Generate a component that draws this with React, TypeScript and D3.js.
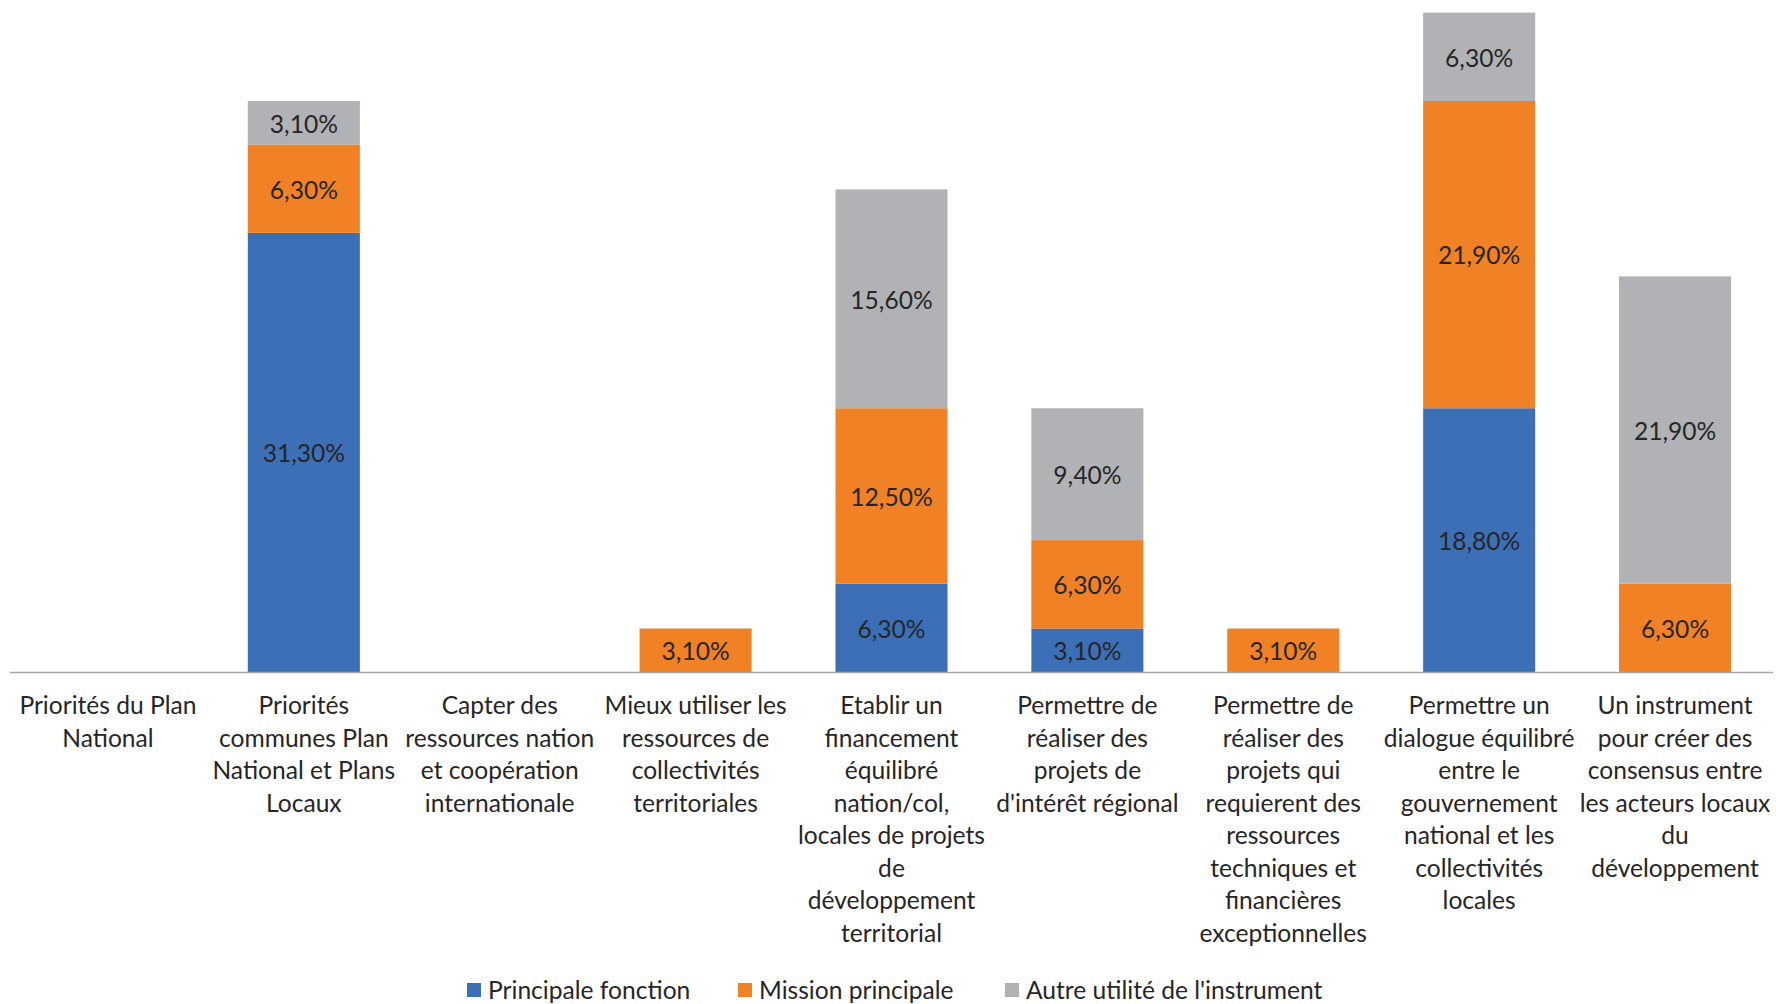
import React from "react";
import * as d3 from "d3";

const categories: string[][] = [
  ["Priorités du Plan", "National"],
  ["Priorités", "communes Plan", "National et Plans", "Locaux"],
  ["Capter des", "ressources nation", "et coopération", "internationale"],
  ["Mieux utiliser les", "ressources de", "collectivités", "territoriales"],
  ["Etablir un", "financement", "équilibré", "nation/col,", "locales de projets", "de", "développement", "territorial"],
  ["Permettre de", "réaliser des", "projets de", "d'intérêt régional"],
  ["Permettre de", "réaliser des", "projets qui", "requierent des", "ressources", "techniques et", "financières", "exceptionnelles"],
  ["Permettre un", "dialogue équilibré", "entre le", "gouvernement", "national et les", "collectivités", "locales"],
  ["Un instrument", "pour créer des", "consensus entre", "les acteurs locaux", "du", "développement"],
];

const seriesNames = ["Principale fonction", "Mission principale", "Autre utilité de l'instrument"];
const principaleFonction = [0, 0.313, 0, 0, 0.063, 0.031, 0, 0.188, 0];
const missionPrincipale = [0, 0.063, 0, 0.031, 0.125, 0.063, 0.031, 0.219, 0.063];
const autreUtilite = [0, 0.031, 0, 0, 0.156, 0.094, 0, 0.063, 0.219];
const colors = ["#3d6fb6", "#f08125", "#b1b2b5"];

const W = 1776;
const H = 1004;
const FONT = "Lato, 'Noto Sans', sans-serif";
const FS = 24.6;

const fmt = d3
  .formatLocale({ decimal: ",", thousands: " ", grouping: [3], currency: ["", "€"] })
  .format(".2%");

export default function App() {
  const ids = categories.map((_, i) => String(i));
  const x = d3.scaleBand<string>().domain(ids).range([10, 1773]).paddingInner(0.428).paddingOuter(0.214);
  const baseY = 672;
  const y = d3.scaleLinear().domain([0, 0.47]).range([baseY, baseY - 47 * 14.03]);

  const rows = ids.map((id, i) => ({
    id,
    s0: principaleFonction[i],
    s1: missionPrincipale[i],
    s2: autreUtilite[i],
  }));
  const stack = d3.stack<any>().keys(["s0", "s1", "s2"]);
  const layers = stack(rows);

  const legendItems = [
    { x: 467, name: seriesNames[0], color: colors[0] },
    { x: 738, name: seriesNames[1], color: colors[1] },
    { x: 1005, name: seriesNames[2], color: colors[2] },
  ];

  return (
    <svg
      width={W}
      height={H}
      viewBox={`0 0 ${W} ${H}`}
      style={{ position: "absolute", left: 0, top: 0, display: "block", background: "#fff" }}
      fontFamily={FONT}
    >
      <rect x={0} y={0} width={W} height={H} fill="#fff" />
      {layers.map((layer, li) => (
        <g key={li}>
          {layer.map((seg, ci) => {
            const v = seg[1] - seg[0];
            if (v <= 0) return null;
            const bx = x(ids[ci])!;
            const top = y(seg[1]);
            const bot = y(seg[0]);
            return (
              <g key={ci}>
                <rect x={bx} y={top} width={x.bandwidth()} height={bot - top} fill={colors[li]} />
                <text
                  x={bx + x.bandwidth() / 2}
                  y={(top + bot) / 2}
                  dy="0.4em"
                  textAnchor="middle"
                  fontSize={FS}
                  fill="#262626"
                >
                  {fmt(v)}
                </text>
              </g>
            );
          })}
        </g>
      ))}
      <line x1={10} x2={1773} y1={baseY + 0.5} y2={baseY + 0.5} stroke="#a6a6a6" strokeWidth={1.5} />
      {categories.map((lines, i) => {
        const cx = x(ids[i])! + x.bandwidth() / 2;
        return (
          <text key={i} x={cx} y={714} textAnchor="middle" fontSize={FS} fill="#262626">
            {lines.map((l, k) => (
              <tspan key={k} x={cx} y={714 + k * 32.5}>
                {l}
              </tspan>
            ))}
          </text>
        );
      })}
      {legendItems.map((it, i) => (
        <g key={i}>
          <rect x={it.x} y={983} width={14} height={14} fill={it.color} />
          <text x={it.x + 21} y={990} dy="0.36em" fontSize={FS} fill="#262626">
            {it.name}
          </text>
        </g>
      ))}
    </svg>
  );
}
